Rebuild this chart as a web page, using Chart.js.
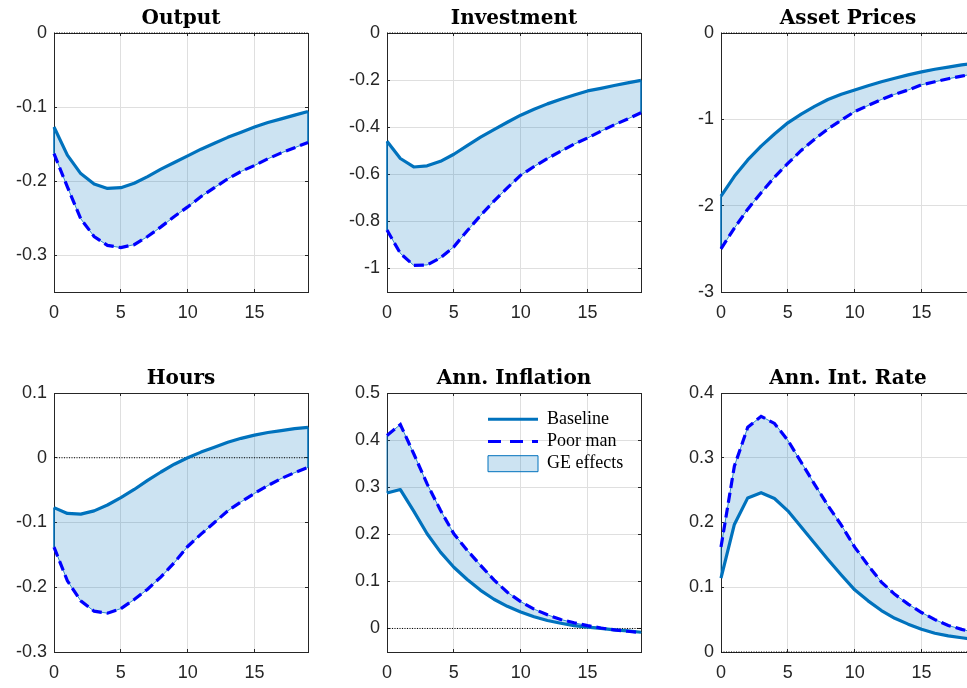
<!DOCTYPE html>
<html>
<head>
<meta charset="utf-8">
<script src="https://cdn.jsdelivr.net/npm/chart.js@4.4.1/dist/chart.umd.min.js"></script>
<style>
html,body{margin:0;padding:0;background:#fff;width:967px;height:688px;overflow:hidden;position:relative}
canvas{position:absolute}
</style>
</head>
<body>
<canvas id="c0" width="314" height="324" style="left:0px;top:0px"></canvas>
<canvas id="c1" width="314" height="324" style="left:333px;top:0px"></canvas>
<canvas id="c2" width="314" height="324" style="left:667px;top:0px"></canvas>
<canvas id="c3" width="314" height="324" style="left:0px;top:360px"></canvas>
<canvas id="c4" width="314" height="324" style="left:333px;top:360px"></canvas>
<canvas id="c5" width="314" height="324" style="left:667px;top:360px"></canvas>
<script>
// ---------------- data ----------------
const periods = [0,1,2,3,4,5,6,7,8,9,10,11,12,13,14,15,16,17,18,19];
const xTicks = [0,5,10,15];
const seriesNames = ['Baseline', 'Poor man', 'GE effects'];

const outputTitle = 'Output';
const outputBaseline = [-0.127,-0.165,-0.190,-0.204,-0.210,-0.209,-0.203,-0.194,-0.184,-0.175,-0.166,-0.157,-0.149,-0.141,-0.134,-0.127,-0.121,-0.116,-0.111,-0.106];
const outputPoorMan  = [-0.163,-0.208,-0.251,-0.275,-0.287,-0.290,-0.286,-0.275,-0.262,-0.248,-0.235,-0.221,-0.209,-0.197,-0.187,-0.179,-0.170,-0.162,-0.155,-0.148];
const outputYTicks = [-0.3,-0.2,-0.1,0];
const outputYRange = [-0.35, 0];

const investmentTitle = 'Investment';
const investmentBaseline = [-0.460,-0.533,-0.569,-0.564,-0.545,-0.515,-0.478,-0.442,-0.410,-0.379,-0.349,-0.324,-0.301,-0.281,-0.263,-0.246,-0.235,-0.223,-0.212,-0.201];
const investmentPoorMan  = [-0.837,-0.936,-0.987,-0.985,-0.955,-0.908,-0.840,-0.775,-0.714,-0.658,-0.604,-0.567,-0.533,-0.502,-0.472,-0.446,-0.417,-0.390,-0.365,-0.339];
const investmentYTicks = [-1,-0.8,-0.6,-0.4,-0.2,0];
const investmentYRange = [-1.1, 0];

const assetTitle = 'Asset Prices';
const assetBaseline = [-1.89,-1.66,-1.47,-1.31,-1.17,-1.04,-0.94,-0.85,-0.77,-0.71,-0.66,-0.61,-0.565,-0.525,-0.485,-0.45,-0.42,-0.395,-0.37,-0.35];
const assetPoorMan  = [-2.50,-2.26,-2.04,-1.85,-1.67,-1.51,-1.36,-1.23,-1.11,-1.01,-0.91,-0.84,-0.77,-0.71,-0.66,-0.60,-0.565,-0.53,-0.50,-0.47];
const assetYTicks = [-3,-2,-1,0];
const assetYRange = [-3, 0];

const hoursTitle = 'Hours';
const hoursBaseline = [-0.077,-0.086,-0.087,-0.082,-0.073,-0.0615,-0.049,-0.035,-0.022,-0.010,0.000,0.0087,0.0164,0.024,0.030,0.035,0.039,0.042,0.045,0.047];
const hoursPoorMan  = [-0.138,-0.190,-0.221,-0.237,-0.240,-0.233,-0.219,-0.203,-0.184,-0.162,-0.137,-0.118,-0.100,-0.082,-0.068,-0.055,-0.043,-0.032,-0.023,-0.015];
const hoursYTicks = [-0.3,-0.2,-0.1,0,0.1];
const hoursYRange = [-0.3, 0.1];

const inflationTitle = 'Ann. Inflation';
const inflationBaseline = [0.2875,0.295,0.249,0.201,0.162,0.130,0.104,0.081,0.062,0.047,0.035,0.025,0.017,0.011,0.006,0.003,0.000,-0.003,-0.005,-0.008];
const inflationPoorMan  = [0.410,0.433,0.371,0.307,0.251,0.201,0.166,0.134,0.103,0.077,0.057,0.041,0.029,0.019,0.012,0.006,0.001,-0.003,-0.006,-0.009];
const inflationYTicks = [0,0.1,0.2,0.3,0.4,0.5];
const inflationYRange = [-0.05, 0.5];

const rateTitle = 'Ann. Int. Rate';
const rateBaseline = [0.114,0.197,0.238,0.246,0.237,0.218,0.193,0.168,0.143,0.119,0.096,0.079,0.064,0.052,0.043,0.035,0.029,0.025,0.022,0.019];
const ratePoorMan  = [0.162,0.287,0.347,0.364,0.353,0.327,0.293,0.259,0.226,0.196,0.162,0.134,0.108,0.089,0.074,0.061,0.050,0.041,0.035,0.030];
const rateYTicks = [0,0.1,0.2,0.3,0.4];
const rateYRange = [0, 0.4];

const zeroLevel = [0, 0];

// ---------------- styles ----------------
const BASE = '#0072BD';
const POOR = '#0000FF';
const FILL = 'rgba(0,114,189,0.2)';
const AXIS = '#262626';
const GRID = '#dfdfdf';
const TICK_FONT = {family: "'Liberation Sans', Arial, sans-serif", size: 18};
const TITLE_FONT = {family: "'DejaVu Serif', serif", size: 20, weight: 'bold', lineHeight: 1.2};
const LEGEND_FONT = {family: "'Liberation Serif', 'Times New Roman', serif", size: 18};

function fmt(v) { return String(Math.round(v * 1000) / 1000); }
function pts(ys) { return periods.map((t, i) => ({x: t, y: ys[i]})); }

function xScale(pos) {
  const main = pos === 'bottom';
  return {
    type: 'linear', position: pos,
    min: periods[0], max: periods[periods.length - 1],
    afterBuildTicks: s => { s.ticks = xTicks.map(v => ({value: v})); },
    afterFit: s => { s.height = main ? 32 : 0; },
    grid: {display: true, drawOnChartArea: main, color: GRID, lineWidth: 1,
           drawTicks: true, tickLength: -3, tickColor: AXIS, tickWidth: 1},
    border: {display: true, color: AXIS, width: 1},
    ticks: {display: main, color: AXIS, font: TICK_FONT, padding: 13,
            maxRotation: 0, autoSkip: false, callback: v => fmt(v)}
  };
}
function yScale(pos, ticks, range) {
  const main = pos === 'left';
  return {
    type: 'linear', position: pos,
    min: range[0], max: range[1],
    afterBuildTicks: s => { s.ticks = ticks.map(v => ({value: v})); },
    afterFit: s => { s.width = main ? 54 : 0; },
    grid: {display: true, drawOnChartArea: main, color: GRID, lineWidth: 1,
           drawTicks: true, tickLength: -3, tickColor: AXIS, tickWidth: 1},
    border: {display: true, color: AXIS, width: 1},
    ticks: {display: main, color: AXIS, font: TICK_FONT, padding: 10,
            autoSkip: false, callback: v => fmt(v)}
  };
}

const legendMover = {
  id: 'legendMover',
  beforeDraw(chart, args, opts) {
    const lg = chart.legend;
    if (!lg || !opts || opts.x == null) return;
    const w = lg.width;
    lg.left = opts.x; lg.top = opts.y;
    lg.right = opts.x + w; lg.bottom = opts.y + 300;
  }
};

function makeChart(id, title, base, poor, yTicks, yRange, withLegend) {
  const last = periods.length - 1;
  const datasets = [
    {label: 'zero', data: [{x: periods[0], y: zeroLevel[0]}, {x: periods[last], y: zeroLevel[1]}],
     borderColor: '#000', borderWidth: 1, borderDash: [1, 1.5], pointRadius: 0, order: 2, clip: false, fill: false},
    {label: seriesNames[0], data: pts(base), borderColor: BASE, borderWidth: 3.2,
     borderJoinStyle: 'round', pointRadius: 0, order: 1, fill: false, clip: false},
    {label: seriesNames[1], data: pts(poor), borderColor: POOR, borderWidth: 3.2, borderDash: [10, 5],
     pointRadius: 0, order: 0, fill: false, clip: false},
    {label: seriesNames[2], data: pts(poor), borderColor: BASE, borderWidth: 0.8,
     backgroundColor: FILL, fill: 1, pointRadius: 0, order: 4},
    {label: 'edgeL', data: [{x: periods[0], y: base[0]}, {x: periods[0], y: poor[0]}],
     borderColor: BASE, borderWidth: 0.8, pointRadius: 0, order: 3, clip: false, fill: false},
    {label: 'edgeR', data: [{x: periods[last], y: base[last]}, {x: periods[last], y: poor[last]}],
     borderColor: BASE, borderWidth: 0.8, pointRadius: 0, order: 3, clip: false, fill: false}
  ];
  const legendOpts = withLegend ? {
    display: true, position: 'chartArea', align: 'start',
    labels: {
      usePointStyle: true, pointStyleWidth: 50, boxHeight: 16, padding: 4.2,
      font: LEGEND_FONT, color: '#000',
      generateLabels: chart => {
        const ds = chart.data.datasets;
        return [
          {text: ds[1].label, fillStyle: 'rgba(0,0,0,0)', strokeStyle: ds[1].borderColor, lineWidth: 3,
           lineDash: [], pointStyle: 'line', hidden: false, fontColor: '#000', datasetIndex: 1},
          {text: ds[2].label, fillStyle: 'rgba(0,0,0,0)', strokeStyle: ds[2].borderColor, lineWidth: 3,
           lineDash: [13, 9], pointStyle: 'line', hidden: false, fontColor: '#000', datasetIndex: 2},
          {text: ds[3].label, fillStyle: ds[3].backgroundColor, strokeStyle: ds[3].borderColor, lineWidth: 1,
           lineDash: [], pointStyle: 'rect', hidden: false, fontColor: '#000', datasetIndex: 3}
        ];
      }
    }
  } : {display: false};

  return new Chart(document.getElementById(id), {
    type: 'line',
    data: {datasets},
    options: {
      responsive: false, animation: false, events: [],
      devicePixelRatio: 1,
      layout: {padding: {left: 0, right: 6, top: 0, bottom: 0}},
      scales: {
        x: xScale('bottom'), x2: xScale('top'),
        y: yScale('left', yTicks, yRange), y2: yScale('right', yTicks, yRange)
      },
      plugins: {
        title: {display: true, text: title, color: '#000', font: TITLE_FONT,
                padding: {top: 6.6, bottom: 2.4}, fullSize: false},
        legend: legendOpts,
        tooltip: {enabled: false},
        legendMover: withLegend ? {x: 150.8, y: 46.1} : {}
      }
    },
    plugins: withLegend ? [legendMover] : []
  });
}

makeChart('c0', outputTitle, outputBaseline, outputPoorMan, outputYTicks, outputYRange, false);
makeChart('c1', investmentTitle, investmentBaseline, investmentPoorMan, investmentYTicks, investmentYRange, false);
makeChart('c2', assetTitle, assetBaseline, assetPoorMan, assetYTicks, assetYRange, false);
makeChart('c3', hoursTitle, hoursBaseline, hoursPoorMan, hoursYTicks, hoursYRange, false);
makeChart('c4', inflationTitle, inflationBaseline, inflationPoorMan, inflationYTicks, inflationYRange, true);
makeChart('c5', rateTitle, rateBaseline, ratePoorMan, rateYTicks, rateYRange, false);
</script>
</body>
</html>
